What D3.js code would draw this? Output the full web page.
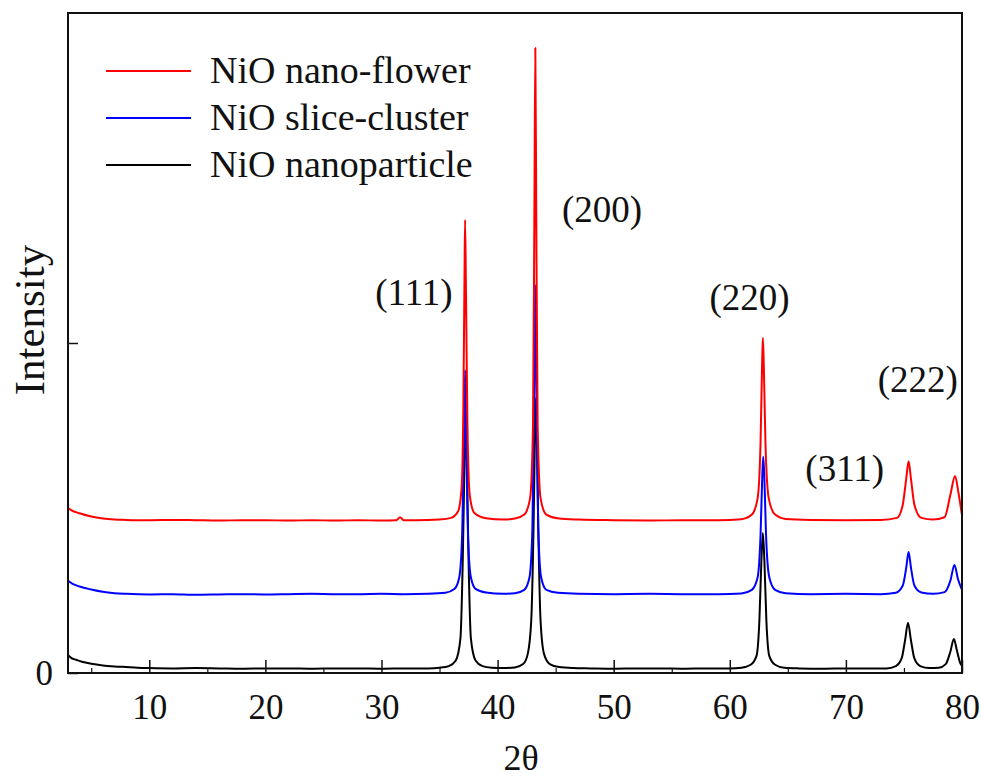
<!DOCTYPE html>
<html>
<head>
<meta charset="utf-8">
<script src="https://cdn.jsdelivr.net/npm/d3@7"></script>
<style>
  body { margin: 0; background: #fff; }
  text { font-family: 'Liberation Serif', 'Times New Roman', serif; fill: #111; }
</style>
</head>
<body>
<svg id="chart" width="981" height="782"></svg>
<script>
// [2theta, intensity]
const nanoparticle = [[3,55],[3.3,45],[3.7,40],[4.2,34],[5,28],[6,23],[7,20],[8,18],[9,16],[10,15],[12,14],[14,15],[16,14],[18,13],[20,14],[22,14],[24,13],[26,14],[28,14],[30,13],[32,14],[34,14],[35,16],[35.8,21],[36.4,38],[36.8,105],[37.0,340],[37.15,640],[37.25,797],[37.35,640],[37.5,340],[37.7,105],[38.1,38],[38.7,21],[39.5,16],[40.5,15],[41.5,17],[42.2,27],[42.6,58],[42.9,160],[43.1,450],[43.22,720],[43.3,833],[43.38,720],[43.5,450],[43.7,160],[44.0,58],[44.5,27],[45.3,18],[46.5,15],[48,14],[50,13],[52,14],[54,14],[56,13],[58,14],[60,14],[61,16],[61.8,25],[62.3,52],[62.55,160],[62.72,340],[62.85,424],[62.98,340],[63.15,160],[63.4,52],[63.9,25],[64.7,16],[66,14],[68,13],[70,14],[72,14],[73.5,14],[74.3,21],[74.8,44],[75.1,100],[75.35,152],[75.6,100],[75.9,44],[76.4,21],[77.2,15],[78,16],[78.6,27],[79.0,65],[79.3,103],[79.55,70],[79.85,30],[80,22]]
const sliceCluster = [[3,279],[3.4,270],[4,262],[5,253],[6,246],[7,242],[8,240],[10,238],[12,239],[14,237],[16,238],[18,239],[20,238],[22,239],[24,240],[26,239],[28,239],[30,240],[32,239],[34,240],[35.5,243],[36.3,255],[36.7,290],[36.95,420],[37.1,700],[37.2,918],[37.3,700],[37.45,420],[37.7,290],[38.1,255],[39,244],[40.5,240],[41.5,242],[42.3,252],[42.75,290],[43.0,440],[43.15,850],[43.25,1176],[43.35,850],[43.5,440],[43.75,290],[44.2,252],[45.2,243],[47,240],[50,239],[53,240],[56,239],[59,239],[61,241],[61.9,252],[62.4,290],[62.65,420],[62.8,600],[62.88,655],[62.97,600],[63.12,420],[63.4,290],[63.9,252],[64.8,242],[67,239],[70,240],[73,239],[74.3,243],[74.9,265],[75.2,320],[75.4,367],[75.6,320],[75.9,265],[76.5,244],[77.5,240],[78.5,245],[79.0,280],[79.35,327],[79.65,285],[80,252]]
const nanoFlower = [[3,500],[3.3,493],[4,484],[5,474],[6,468],[7,465],[8,464],[10,463],[12,464],[14,463],[16,462],[18,463],[20,463],[22,462],[24,463],[26,462],[28,463],[30,462],[31.3,463],[31.6,472],[31.9,463],[33,463],[35,465],[36,470],[36.6,490],[36.9,560],[37.05,800],[37.15,1200],[37.2,1373],[37.28,1150],[37.4,760],[37.6,540],[38,485],[39,469],[40.5,465],[41.5,468],[42.3,480],[42.8,530],[43.05,750],[43.17,1400],[43.25,1894],[43.33,1400],[43.45,750],[43.7,530],[44.2,480],[45.3,468],[47,465],[50,463],[53,462],[56,463],[59,463],[61,466],[61.9,480],[62.4,530],[62.65,700],[62.78,930],[62.85,1015],[62.93,930],[63.07,700],[63.35,530],[63.9,480],[64.8,467],[67,464],[70,463],[73,464],[74.4,470],[74.9,510],[75.2,590],[75.4,642],[75.6,590],[75.9,510],[76.5,470],[77.5,465],[78.5,472],[79.0,540],[79.4,597],[79.7,545],[80,478]]

const seriesNames = ['NiO nano-flower', 'NiO slice-cluster', 'NiO nanoparticle']
const seriesColors = ['#ff0000', '#0000ff', '#000000']
const xTicks = [10, 20, 30, 40, 50, 60, 70, 80]
const xMinorTicks = [5, 15, 25, 35, 45, 55, 65, 75]
const peakLabels = ['(111)', '(200)', '(220)', '(311)', '(222)']
const peakLabelAt = [[32.8, 1115], [49.0, 1367], [61.7, 1100], [69.9, 582], [76.2, 852]]

const svg = d3.select('#chart')
const x = d3.scaleLinear().domain([3, 80]).range([68, 962])
const y = d3.scaleLinear().domain([0, 2000]).range([673, 13])

const line = d3.line().x(d => x(d[0])).y(d => y(d[1])).curve(d3.curveMonotoneX)

// black under blue under red
const series = [nanoFlower, sliceCluster, nanoparticle]
d3.range(3).reverse().forEach(i => {
  svg.append('path').attr('d', line(series[i]))
    .attr('fill', 'none').attr('stroke', seriesColors[i])
    .attr('stroke-width', 2).attr('stroke-linejoin', 'round')
})

// frame
svg.append('rect').attr('x', 68).attr('y', 13).attr('width', 962 - 68).attr('height', 673 - 13)
  .attr('fill', 'none').attr('stroke', '#111').attr('stroke-width', 2)

const xAxis = svg.append('g').attr('transform', 'translate(0,673)')
  .call(d3.axisBottom(x).tickValues(xTicks).tickSize(-13).tickPadding(21).tickFormat(d3.format('d')))
xAxis.select('.domain').remove()
xAxis.selectAll('line').attr('stroke', '#111').attr('stroke-width', 1.5)
xAxis.selectAll('text').attr('font-size', 35).attr('font-family', 'Liberation Serif').attr('fill', '#111')

const xMinor = svg.append('g').attr('transform', 'translate(0,673)')
  .call(d3.axisBottom(x).tickValues(xMinorTicks).tickSize(-5).tickFormat(''))
xMinor.select('.domain').remove()
xMinor.selectAll('line').attr('stroke', '#111').attr('stroke-width', 1.2)

const yAxis = svg.append('g').attr('transform', 'translate(68,0)')
  .call(d3.axisLeft(y).tickValues([0, 1000]).tickSize(-10).tickPadding(15).tickFormat(d => d === 0 ? '0' : ''))
yAxis.select('.domain').remove()
yAxis.selectAll('line').attr('stroke', '#111').attr('stroke-width', 1.5)
yAxis.selectAll('text').attr('font-size', 35).attr('font-family', 'Liberation Serif').attr('fill', '#111')

svg.append('text').attr('x', 521).attr('y', 770).attr('text-anchor', 'middle')
  .attr('font-size', 36).text('2θ')
svg.append('text').attr('transform', 'translate(44,320) rotate(-90)').attr('text-anchor', 'middle')
  .attr('font-size', 43).text('Intensity')

// legend
seriesNames.forEach((name, i) => {
  const ly = 71 + i * 47
  svg.append('line').attr('x1', 106).attr('x2', 191).attr('y1', ly).attr('y2', ly)
    .attr('stroke', seriesColors[i]).attr('stroke-width', 2)
  svg.append('text').attr('x', 210).attr('y', ly + 12).attr('font-size', 38).text(name)
})

peakLabels.forEach((label, i) => {
  svg.append('text').attr('x', x(peakLabelAt[i][0])).attr('y', y(peakLabelAt[i][1]))
    .attr('text-anchor', 'middle').attr('font-size', 37).text(label)
})
</script>
</body>
</html>
